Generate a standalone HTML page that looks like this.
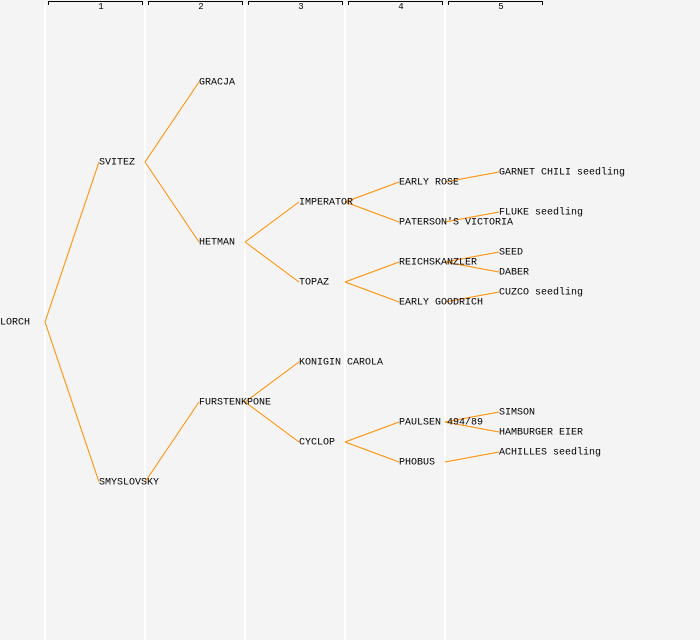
<!DOCTYPE html><html><head><style>body{margin:0;background:#f4f4f4}svg{display:block}text{font-family:"Liberation Mono","DejaVu Sans Mono",monospace;font-size:10px;fill:#000;dominant-baseline:central}</style></head><body>
<svg width="700" height="640" viewBox="0 0 700 640">
<rect width="700" height="640" fill="#f4f4f4"/>
<g stroke="#fff" stroke-width="2"><line x1="45" y1="4" x2="45" y2="640"/><line x1="145" y1="4" x2="145" y2="640"/><line x1="245" y1="4" x2="245" y2="640"/><line x1="345" y1="4" x2="345" y2="640"/><line x1="445" y1="4" x2="445" y2="640"/></g>
<g stroke="#000" fill="none" stroke-width="1">
<path d="M48.5 5V1.5H142.5V5M148.5 5V1.5H242.5V5M248.5 5V1.5H342.5V5M348.5 5V1.5H442.5V5M448.5 5V1.5H542.5V5"/>
</g>
<g><text x="101" y="7" text-anchor="middle" style="font-size:9px">1</text><text x="201" y="7" text-anchor="middle" style="font-size:9px">2</text><text x="301" y="7" text-anchor="middle" style="font-size:9px">3</text><text x="401" y="7" text-anchor="middle" style="font-size:9px">4</text><text x="501" y="7" text-anchor="middle" style="font-size:9px">5</text></g>
<g stroke="#ff8c00" stroke-width="1" fill="none">
<path d="M45 322L99 162M45 322L99 482
M145 162L199 82M145 162L199 242M145 482L199 402
M245 242L299 202M245 242L299 282M245 402L299 362M245 402L299 442
M345 202L399 182M345 202L399 222M345 282L399 262M345 282L399 302M345 442L399 422M345 442L399 462
M445 182L499 172M445 222L499 212M445 262L499 252M445 262L499 272M445 302L499 292M445 422L499 412M445 422L499 432M445 462L499 452"/>
</g>
<g transform="translate(0,1)">
<text x="0" y="322">LORCH</text>
<text x="99" y="162">SVITEZ</text><text x="99" y="482">SMYSLOVSKY</text>
<text x="199" y="82">GRACJA</text><text x="199" y="242">HETMAN</text><text x="199" y="402">FURSTENKPONE</text>
<text x="299" y="202">IMPERATOR</text><text x="299" y="282">TOPAZ</text><text x="299" y="362">KONIGIN CAROLA</text><text x="299" y="442">CYCLOP</text>
<text x="399" y="182">EARLY ROSE</text><text x="399" y="222">PATERSON'S VICTORIA</text><text x="399" y="262">REICHSKANZLER</text><text x="399" y="302">EARLY GOODRICH</text><text x="399" y="422">PAULSEN 494/89</text><text x="399" y="462">PHOBUS</text>
<text x="499" y="172">GARNET CHILI seedling</text><text x="499" y="212">FLUKE seedling</text><text x="499" y="252">SEED</text><text x="499" y="272">DABER</text><text x="499" y="292">CUZCO seedling</text><text x="499" y="412">SIMSON</text><text x="499" y="432">HAMBURGER EIER</text><text x="499" y="452">ACHILLES seedling</text>
</g>
</svg></body></html>
